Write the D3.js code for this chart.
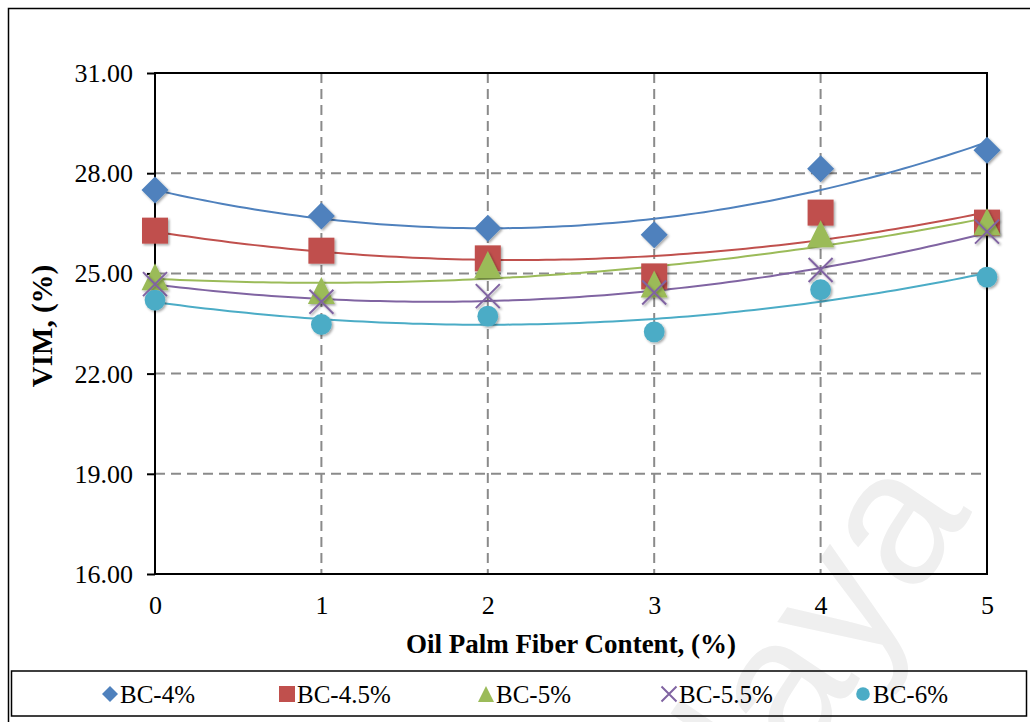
<!DOCTYPE html>
<html><head><meta charset="utf-8">
<script src="https://cdn.jsdelivr.net/npm/d3@7/dist/d3.min.js"></script>
<style>body{margin:0;background:#fff}svg{display:block}
.serif{font-family:"Liberation Serif","Times New Roman",Times,"DejaVu Serif",serif}
.sans{font-family:"Liberation Sans",Arial,"DejaVu Sans",sans-serif}
</style>
</head><body>
<svg id="c" width="1030" height="722"></svg>
<script>
const fiber = [0, 1, 2, 3, 4, 5];
const seriesNames = ["BC-4%", "BC-4.5%", "BC-5%", "BC-5.5%", "BC-6%"];
const bc40 = [27.50, 26.72, 26.35, 26.16, 28.13, 28.69];
const bc45 = [26.28, 25.68, 25.45, 24.91, 26.82, 26.52];
const bc50 = [24.90, 24.49, 25.27, 24.68, 26.19, 26.55];
const bc55 = [24.68, 24.15, 24.32, 24.43, 25.10, 26.25];
const bc60 = [24.20, 23.47, 23.72, 23.25, 24.51, 24.89];
const yTicks = [16, 19, 22, 25, 28, 31];
const xTicks = [0, 1, 2, 3, 4, 5];

const colors = ["#4F81BD", "#C0504D", "#9BBB59", "#8064A2", "#4BACC6"];
const shapes = ["diamond", "square", "triangle", "x", "circle"];
const allSeries = [bc40, bc45, bc50, bc55, bc60];

const svg = d3.select("#c");
const L = 155, R = 987, T = 73, B = 574;
const x = d3.scaleLinear().domain([0, 5]).range([L, R]);
const y = d3.scaleLinear().domain([16, 31]).range([B, T]);

const defs = svg.append("defs");
const f = defs.append("filter").attr("id", "sh").attr("x", "-50%").attr("y", "-50%").attr("width", "200%").attr("height", "200%");
f.append("feDropShadow").attr("dx", 1.5).attr("dy", 1.5).attr("stdDeviation", 1.2).attr("flood-color", "#000").attr("flood-opacity", 0.35);

// watermark
svg.append("text").attr("class", "sans").attr("transform", "translate(630,1020) rotate(-56)")
  .attr("font-size", 190).attr("fill", "#efefef").text("Malaya");

// outer frame
svg.append("rect").attr("x", 8.5).attr("y", 8.5).attr("width", 1040).attr("height", 740)
  .attr("fill", "none").attr("stroke", "#000").attr("stroke-width", 1.5);

// grid
const grid = svg.append("g").attr("stroke", "#8a8a8a").attr("stroke-width", 2).attr("stroke-dasharray", "10,6");
yTicks.filter(v => v > 16 && v < 31).forEach(v => {
  grid.append("line").attr("x1", L).attr("x2", R).attr("y1", y(v)).attr("y2", y(v));
});
xTicks.filter(v => v > 0 && v < 5).forEach(v => {
  grid.append("line").attr("x1", x(v)).attr("x2", x(v)).attr("y1", T).attr("y2", B);
});

// axes
const yAxis = d3.axisLeft(y).tickValues(yTicks).tickSize(8).tickPadding(14).tickFormat(d3.format(".2f"));
const gy = svg.append("g").attr("transform", `translate(${L},0)`).call(yAxis);
gy.select(".domain").remove();
gy.attr("font-family", null).attr("font-size", null);
gy.selectAll("line").attr("stroke", "#000").attr("stroke-width", 2);
gy.selectAll("text").attr("class", "serif").attr("font-size", 26).attr("fill", "#000").attr("dy", "0.33em");

const xAxis = d3.axisBottom(x).tickValues(xTicks).tickSize(0).tickPadding(22).tickFormat(d3.format("d"));
const gx = svg.append("g").attr("transform", `translate(0,${B})`).call(xAxis);
gx.select(".domain").remove();
gx.attr("font-family", null).attr("font-size", null);
gx.selectAll("text").attr("class", "serif").attr("font-size", 26).attr("fill", "#000");

svg.append("rect").attr("x", L).attr("y", T).attr("width", R - L).attr("height", B - T)
  .attr("fill", "none").attr("stroke", "#000").attr("stroke-width", 2);

// titles
svg.append("text").attr("class", "serif").attr("x", (L + R) / 2).attr("y", 653).attr("text-anchor", "middle")
  .attr("font-weight", "bold").attr("font-size", 27).text("Oil Palm Fiber Content, (%)");
svg.append("text").attr("class", "serif").attr("transform", `translate(52,326) rotate(-90)`).attr("text-anchor", "middle")
  .attr("font-weight", "bold").attr("font-size", 29).text("VIM, (%)");

function quadFit(xs, ys) {
  let n = xs.length, s = [0,0,0,0,0], t = [0,0,0];
  for (let i = 0; i < n; i++) {
    let p = 1;
    for (let k = 0; k < 5; k++) { s[k] += p; if (k < 3) t[k] += p * ys[i]; p *= xs[i]; }
  }
  const M = [[s[0], s[1], s[2], t[0]], [s[1], s[2], s[3], t[1]], [s[2], s[3], s[4], t[2]]];
  for (let i = 0; i < 3; i++) {
    for (let j = i + 1; j < 3; j++) {
      const r = M[j][i] / M[i][i];
      for (let k = i; k < 4; k++) M[j][k] -= r * M[i][k];
    }
  }
  const c = [0, 0, 0];
  for (let i = 2; i >= 0; i--) {
    let v = M[i][3];
    for (let k = i + 1; k < 3; k++) v -= M[i][k] * c[k];
    c[i] = v / M[i][i];
  }
  return xv => c[0] + c[1] * xv + c[2] * xv * xv;
}

const line = d3.line().x(d => x(d[0])).y(d => y(d[1]));
allSeries.forEach((vals, i) => {
  const fn = quadFit(fiber, vals);
  const pts = d3.range(0, 5.0001, 0.05).map(v => [v, fn(v)]);
  svg.append("path").attr("d", line(pts)).attr("fill", "none").attr("stroke", colors[i]).attr("stroke-width", 2);
});

function marker(g, shape, color, s) {
  if (shape === "diamond") {
    g.append("path").attr("d", `M0,${-s}L${s},0L0,${s}L${-s},0Z`).attr("fill", color);
  } else if (shape === "square") {
    g.append("rect").attr("x", -s).attr("y", -s).attr("width", 2 * s).attr("height", 2 * s).attr("fill", color);
  } else if (shape === "triangle") {
    g.append("path").attr("d", `M0,${-s}L${s},${s}L${-s},${s}Z`).attr("fill", color);
  } else if (shape === "x") {
    g.append("path").attr("d", `M${-s},${-s}L${s},${s}M${-s},${s}L${s},${-s}`).attr("stroke", color).attr("stroke-width", 2).attr("fill", "none");
  } else {
    g.append("circle").attr("r", s * 0.8).attr("fill", color);
  }
}
const mSize = [13.5, 13, 13.5, 12, 13];
allSeries.forEach((vals, i) => {
  vals.forEach((v, j) => {
    const g = svg.append("g").attr("transform", `translate(${x(fiber[j])},${y(v)})`).attr("filter", "url(#sh)");
    marker(g, shapes[i], colors[i], mSize[i]);
  });
});

// legend
svg.append("rect").attr("x", 11.5).attr("y", 671).attr("width", 1015).attr("height", 45)
  .attr("fill", "none").attr("stroke", "#000").attr("stroke-width", 1.5);
const legX = [110, 287, 486, 669, 863];
const legS = [8, 8, 8, 7.5, 8.5];
seriesNames.forEach((name, i) => {
  const g = svg.append("g").attr("transform", `translate(${legX[i]},694)`);
  marker(g, shapes[i], colors[i], legS[i]);
  svg.append("text").attr("class", "serif").attr("x", legX[i] + 10).attr("y", 703)
    .attr("font-size", 25).text(name);
});
</script>
</body></html>
